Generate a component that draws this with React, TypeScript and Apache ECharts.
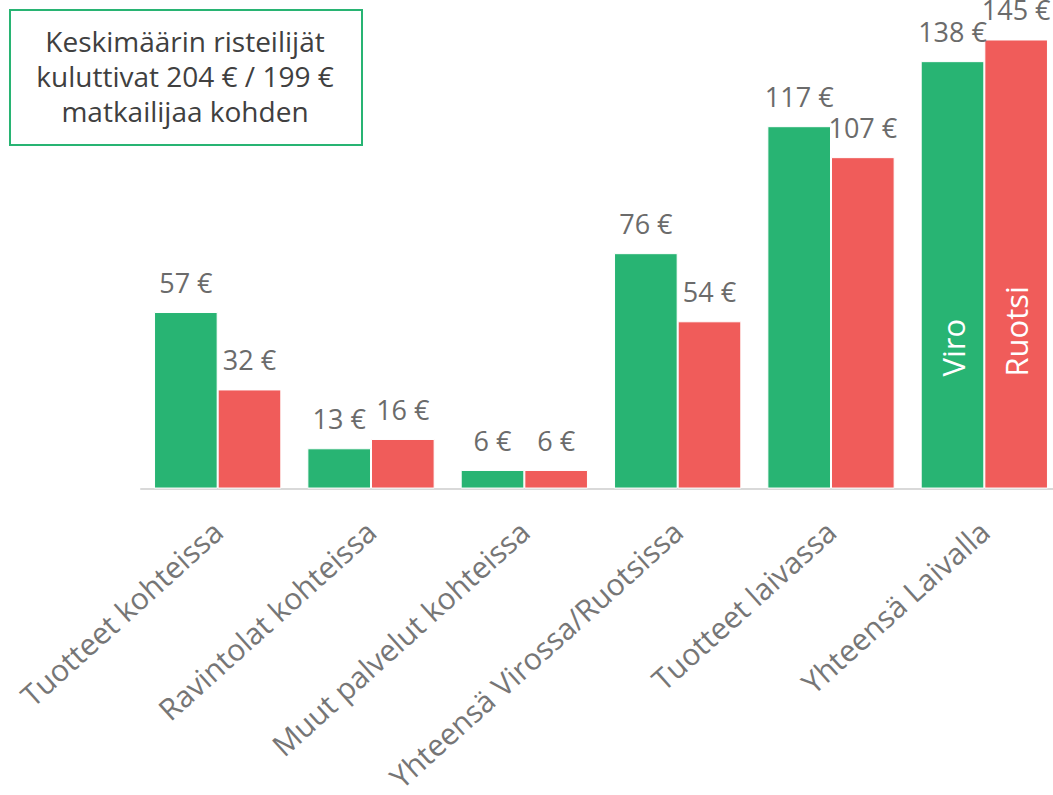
import React, { useEffect, useRef } from "react";
import * as echarts from "echarts";

const categories = [
  "Tuotteet kohteissa",
  "Ravintolat kohteissa",
  "Muut palvelut kohteissa",
  "Yhteensä Virossa/Ruotsissa",
  "Tuotteet laivassa",
  "Yhteensä Laivalla",
];
const viro = [57, 13, 6, 76, 117, 138];
const ruotsi = [32, 16, 6, 54, 107, 145];
const seriesNames = ["Viro", "Ruotsi"];
const boxText = "Keskimäärin risteilijät\nkuluttivat 204 € / 199 €\nmatkailijaa kohden";

const GREEN = "#28B473";
const RED = "#F05C5A";
const FONT = "'Open Sans'";
const GAP = 0.17;
const GRID_W = 920;

export default function App() {
  const ref = useRef<HTMLDivElement>(null);
  useEffect(() => {
    if (!ref.current) return;
    const chart = echarts.init(ref.current, null, { renderer: "svg" });
    const label = {
      show: true,
      position: "top" as const,
      distance: 16,
      color: "#6b6b6b",
      fontFamily: FONT,
      fontSize: 27,
      formatter: (p: any) => `${p.value} €`,
    };
    chart.setOption({
      animation: false,
      grid: { left: 141, top: 24, width: GRID_W, height: 465 },
      xAxis: {
        type: "category",
        data: categories,
        axisLine: { lineStyle: { color: "#d9d9d9", width: 2 } },
        axisTick: { show: false },
        axisLabel: {
          rotate: 42,
          interval: 0,
          margin: 38,
          color: "#767676",
          fontFamily: FONT,
          fontSize: 30,
        },
      },
      yAxis: { type: "value", min: 0, max: 150, show: false, splitLine: { show: false } },
      series: [
        {
          name: seriesNames[0],
          type: "bar",
          data: viro,
          barGap: "0%",
          barCategoryGap: `${GAP * 100}%`,
          itemStyle: { color: GREEN, borderColor: "#ffffff", borderWidth: 1 },
          label,
        },
        {
          name: seriesNames[1],
          type: "bar",
          data: ruotsi,
          itemStyle: { color: RED, borderColor: "#ffffff", borderWidth: 1 },
          label,
        },
      ],
    });
    const last = categories.length - 1;
    const cx = chart.convertToPixel({ xAxisIndex: 0 }, last) as number;
    const bandW = GRID_W / categories.length;
    const barW = (bandW * (1 - GAP)) / 2;
    const y0 = chart.convertToPixel({ yAxisIndex: 0 }, 0) as number;
    const anchorY = y0 - 112;
    chart.setOption({
      graphic: [
        {
          type: "rect",
          left: 9,
          top: 9,
          z: 100,
          shape: { width: 352, height: 135 },
          style: { fill: "#fff", stroke: GREEN, lineWidth: 2 },
        },
        {
          type: "text",
          x: 185,
          y: 76,
          z: 101,
          style: {
            text: boxText,
            fill: "#404040",
            font: `28px ${FONT}`,
            align: "center",
            verticalAlign: "middle",
            lineHeight: 35,
          },
        },
        {
          type: "text",
          x: cx - barW / 2,
          y: anchorY,
          z: 100,
          rotation: Math.PI / 2,
          style: { text: seriesNames[0], fill: "#fff", font: `31px ${FONT}`, align: "left", verticalAlign: "middle" },
        },
        {
          type: "text",
          x: cx + barW / 2,
          y: anchorY,
          z: 100,
          rotation: Math.PI / 2,
          style: { text: seriesNames[1], fill: "#fff", font: `31px ${FONT}`, align: "left", verticalAlign: "middle" },
        },
      ],
    });
    return () => chart.dispose();
  }, []);
  return (
    <div style={{ position: "absolute", left: 0, top: 0, width: 1053, height: 795, overflow: "hidden" }}>
      <div ref={ref} style={{ width: 1070, height: 795 }} />
    </div>
  );
}
